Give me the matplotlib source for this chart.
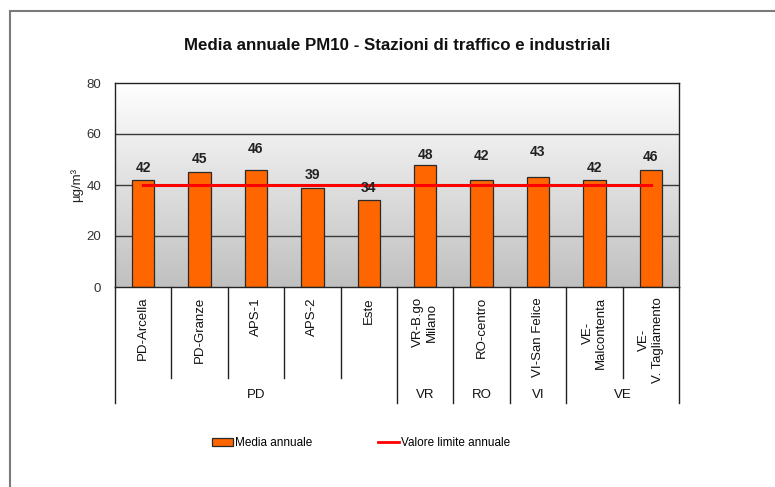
import matplotlib
matplotlib.use("Agg")
import matplotlib.pyplot as plt
import numpy as np
from matplotlib.lines import Line2D
from matplotlib.patches import Patch
import matplotlib.transforms as mtransforms
from matplotlib.colors import LinearSegmentedColormap

plt.rcParams['font.family'] = ['Liberation Sans', 'DejaVu Sans']

# ---- data ----
stations = ['PD-Arcella', 'PD-Granze', 'APS-1', 'APS-2', 'Este',
            'VR-B.go\nMilano', 'RO-centro', 'VI-San Felice',
            'VE-\nMalcontenta', 'VE-\nV. Tagliamento']
groups = ['PD', 'VR', 'RO', 'VI', 'VE']
group_sizes = [5, 1, 1, 1, 2]
media_annuale = [42, 45, 46, 39, 34, 48, 42, 43, 42, 46]
valore_limite = [40, 40, 40, 40, 40, 40, 40, 40, 40, 40]
y_ticks = [0, 20, 40, 60, 80]

# label placement offsets (layout, in data units above bar top)
label_offsets = [4.8, 5.1, 8.1, 4.9, 4.9, 3.8, 9.4, 10.0, 4.8, 4.9]

W, H = 775, 487
fig = plt.figure(figsize=(W / 100, H / 100), dpi=100)
fig.patch.set_facecolor('white')

left, right, top, bottom = 115, 679, 83, 287
ax = fig.add_axes([left / W, 1 - bottom / H, (right - left) / W, (bottom - top) / H])

n = len(stations)
x = np.arange(n)
ax.set_xlim(-0.5, n - 0.5)
ax.set_ylim(0, 80)

# gradient background
grad = np.linspace(0, 1, 256).reshape(-1, 1)
cmap = LinearSegmentedColormap.from_list('bg', ['#c0c0c0', '#ffffff'])
ax.imshow(grad, aspect='auto', cmap=cmap, extent=(-0.5, n - 0.5, 0, 80),
          origin='lower', zorder=0, interpolation='bilinear')

for yv in y_ticks[1:-1]:
    ax.axhline(yv, color='#3a3a3a', lw=1.0, zorder=1)

ax.bar(x, media_annuale, width=0.4, color='#ff6600', edgecolor='#2a2a2a',
       lw=0.9, zorder=2)
ax.plot(x, valore_limite, color='#ff0000', lw=2.2, zorder=3)

for xi, v, off in zip(x, media_annuale, label_offsets):
    ax.text(xi, v + off, str(v), ha='center', va='center', fontsize=10,
            fontweight='bold', color='#222222', zorder=4)

for s in ax.spines.values():
    s.set_color('#222222')
    s.set_linewidth(1.0)

ax.set_yticks(y_ticks)
ax.set_yticklabels([str(t) for t in y_ticks], fontsize=9.5, color='#333333')
ax.tick_params(axis='y', length=0, pad=10)
ax.set_xticks([])
ax.set_ylabel('µg/m³', fontsize=9.5, color='#222222', labelpad=2)

# category labels and separators below axis
trans = mtransforms.blended_transform_factory(ax.transData, ax.transAxes)
ax_h = bottom - top
y_cat = -10 / ax_h
y_inner = -(378 - bottom) / ax_h
y_outer = -(403 - bottom) / ax_h
y_group = -(395 - bottom) / ax_h

for xi, name in zip(x, stations):
    ax.text(xi, y_cat, name, transform=trans, rotation=90, ha='center',
            va='top', fontsize=9.5, multialignment='center', color='#111111')

boundaries = []
start = 0
for g, sz in zip(groups, group_sizes):
    boundaries.append(start)
    center = start + (sz - 1) / 2
    ax.text(center, y_group, g, transform=trans, ha='center', va='center',
            fontsize=9.5, color='#111111')
    start += sz
boundaries.append(start)

for b in range(n + 1):
    xb = b - 0.5
    yend = y_outer if b in boundaries else y_inner
    ax.plot([xb, xb], [0, yend], transform=trans, color='#222222', lw=1.0,
            clip_on=False)

# title
fig.text(397 / W, 1 - 46 / H, 'Media annuale PM10 - Stazioni di traffico e industriali',
         ha='center', va='center', fontsize=12.2, fontweight='bold', color='#111111')

# legend
handles = [Patch(facecolor='#ff6600', edgecolor='#2a2a2a', lw=0.9),
           Line2D([0], [0], color='#ff0000', lw=2)]
fig.legend(handles, ['Media annuale', 'Valore limite annuale'], loc='center',
           bbox_to_anchor=(361 / W, 1 - 443 / H), ncol=2, frameon=False,
           fontsize=8.5, handlelength=1.8, handletextpad=0.2, columnspacing=5.5)

# outer frame (left & top edges)
fig.add_artist(Line2D([9.5 / W, 9.5 / W], [0, 1 - 10.5 / H], transform=fig.transFigure,
                      color='#7a7a7a', lw=1.5))
fig.add_artist(Line2D([9.5 / W, 1], [1 - 10.5 / H, 1 - 10.5 / H], transform=fig.transFigure,
                      color='#7a7a7a', lw=1.5))

fig.savefig('out.png', dpi=100)
